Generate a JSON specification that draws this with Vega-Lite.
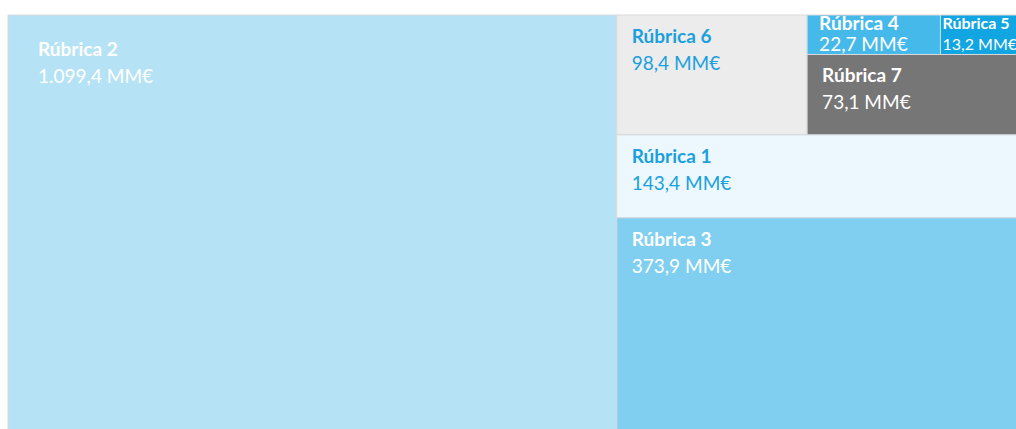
{
  "$schema": "https://vega.github.io/schema/vega-lite/v6.json",
  "width": 1010,
  "height": 419,
  "autosize": {"type": "none"},
  "padding": {"left": 8, "top": 15, "right": 0, "bottom": 0},
  "background": "white",
  "config": {"view": {"stroke": null}, "text": {"font": "Lato"}},
  "data": {
    "values": [
      {"name": "Rúbrica 2", "value": 1099.4, "display": "1.099,4 MM€", "l1": "1", "l2": "1", "l3": "1", "l4": "1", "l5": "1"},
      {"name": "Rúbrica 6", "value": 98.4, "display": "98,4 MM€", "l1": "2", "l2": "1", "l3": "1", "l4": "1", "l5": "1"},
      {"name": "Rúbrica 4", "value": 22.7, "display": "22,7 MM€", "l1": "2", "l2": "1", "l3": "2", "l4": "1", "l5": "1"},
      {"name": "Rúbrica 5", "value": 13.2, "display": "13,2 MM€", "l1": "2", "l2": "1", "l3": "2", "l4": "1", "l5": "2"},
      {"name": "Rúbrica 7", "value": 73.1, "display": "73,1 MM€", "l1": "2", "l2": "1", "l3": "2", "l4": "2", "l5": "1"},
      {"name": "Rúbrica 1", "value": 143.4, "display": "143,4 MM€", "l1": "2", "l2": "2", "l3": "1", "l4": "1", "l5": "1"},
      {"name": "Rúbrica 3", "value": 373.9, "display": "373,9 MM€", "l1": "2", "l2": "3", "l3": "1", "l4": "1", "l5": "1"}
    ]
  },
  "transform": [
    {"window": [{"op": "sum", "field": "value", "as": "c1"}], "sort": [{"field": "l1"}], "frame": [null, 0]},
    {"joinaggregate": [{"op": "max", "field": "c1", "as": "e1"}, {"op": "sum", "field": "value", "as": "g1"}], "groupby": ["l1"]},
    {"joinaggregate": [{"op": "sum", "field": "value", "as": "p1"}]},
    {"calculate": "(datum.e1 - datum.g1) / datum.p1", "as": "x1a"},
    {"calculate": "datum.e1 / datum.p1", "as": "x1b"},

    {"window": [{"op": "sum", "field": "value", "as": "c2"}], "sort": [{"field": "l2"}], "groupby": ["l1"], "frame": [null, 0]},
    {"joinaggregate": [{"op": "max", "field": "c2", "as": "e2"}, {"op": "sum", "field": "value", "as": "g2"}], "groupby": ["l1", "l2"]},
    {"calculate": "(datum.e2 - datum.g2) / datum.g1", "as": "y2a"},
    {"calculate": "datum.e2 / datum.g1", "as": "y2b"},

    {"window": [{"op": "sum", "field": "value", "as": "c3"}], "sort": [{"field": "l3"}], "groupby": ["l1", "l2"], "frame": [null, 0]},
    {"joinaggregate": [{"op": "max", "field": "c3", "as": "e3"}, {"op": "sum", "field": "value", "as": "g3"}], "groupby": ["l1", "l2", "l3"]},
    {"calculate": "datum.x1a + (datum.e3 - datum.g3) / datum.g2 * (datum.x1b - datum.x1a)", "as": "x3a"},
    {"calculate": "datum.x1a + datum.e3 / datum.g2 * (datum.x1b - datum.x1a)", "as": "x3b"},

    {"window": [{"op": "sum", "field": "value", "as": "c4"}], "sort": [{"field": "l4"}], "groupby": ["l1", "l2", "l3"], "frame": [null, 0]},
    {"joinaggregate": [{"op": "max", "field": "c4", "as": "e4"}, {"op": "sum", "field": "value", "as": "g4"}], "groupby": ["l1", "l2", "l3", "l4"]},
    {"calculate": "datum.y2a + (datum.e4 - datum.g4) / datum.g3 * (datum.y2b - datum.y2a)", "as": "y4a"},
    {"calculate": "datum.y2a + datum.e4 / datum.g3 * (datum.y2b - datum.y2a)", "as": "y4b"},

    {"window": [{"op": "sum", "field": "value", "as": "c5"}], "sort": [{"field": "l5"}], "groupby": ["l1", "l2", "l3", "l4"], "frame": [null, 0]},
    {"joinaggregate": [{"op": "max", "field": "c5", "as": "e5"}, {"op": "sum", "field": "value", "as": "g5"}], "groupby": ["l1", "l2", "l3", "l4", "l5"]},
    {"calculate": "datum.x3a + (datum.e5 - datum.g5) / datum.g4 * (datum.x3b - datum.x3a)", "as": "x5a"},
    {"calculate": "datum.x3a + datum.e5 / datum.g4 * (datum.x3b - datum.x3a)", "as": "x5b"}
  ],
  "encoding": {
    "x": {"field": "x5a", "type": "quantitative", "scale": {"domain": [0, 1], "nice": false, "zero": false}, "axis": null},
    "y": {"field": "y4a", "type": "quantitative", "scale": {"domain": [0, 1], "nice": false, "zero": false, "reverse": true}, "axis": null}
  },
  "layer": [
    {
      "mark": {"type": "rect", "stroke": "#d9d9d9", "strokeWidth": 1},
      "encoding": {
        "x2": {"field": "x5b"},
        "y2": {"field": "y4b"},
        "color": {
          "field": "name",
          "type": "nominal",
          "scale": {
            "domain": ["Rúbrica 2", "Rúbrica 6", "Rúbrica 4", "Rúbrica 5", "Rúbrica 7", "Rúbrica 1", "Rúbrica 3"],
            "range": ["#b5e3f5", "#ececec", "#45baea", "#11a5e1", "#767676", "#ecf8fd", "#80cff0"]
          },
          "legend": null
        }
      }
    },
    {
      "transform": [{"filter": "datum.name === 'Rúbrica 2'"}],
      "mark": {"type": "text", "align": "left", "baseline": "middle", "dx": 30, "dy": 35, "fontSize": 19, "fontWeight": "bold", "color": "white"},
      "encoding": {"text": {"field": "name"}}
    },
    {
      "transform": [{"filter": "datum.name === 'Rúbrica 2'"}],
      "mark": {"type": "text", "align": "left", "baseline": "middle", "dx": 30, "dy": 62, "fontSize": 19, "color": "white"},
      "encoding": {"text": {"field": "display"}}
    },
    {
      "transform": [{"filter": "indexof(['Rúbrica 6', 'Rúbrica 7', 'Rúbrica 1', 'Rúbrica 3'], datum.name) >= 0"}],
      "mark": {"type": "text", "align": "left", "baseline": "middle", "dx": 15, "dy": 22, "fontSize": 19, "fontWeight": "bold"},
      "encoding": {
        "text": {"field": "name"},
        "color": {"condition": {"test": "datum.name === 'Rúbrica 6' || datum.name === 'Rúbrica 1'", "value": "#1ba0dd"}, "value": "white"}
      }
    },
    {
      "transform": [{"filter": "indexof(['Rúbrica 6', 'Rúbrica 7', 'Rúbrica 1', 'Rúbrica 3'], datum.name) >= 0"}],
      "mark": {"type": "text", "align": "left", "baseline": "middle", "dx": 15, "dy": 49, "fontSize": 19},
      "encoding": {
        "text": {"field": "display"},
        "color": {"condition": {"test": "datum.name === 'Rúbrica 6' || datum.name === 'Rúbrica 1'", "value": "#1ba0dd"}, "value": "white"}
      }
    },
    {
      "transform": [{"filter": "datum.name === 'Rúbrica 4'"}],
      "mark": {"type": "text", "align": "left", "baseline": "middle", "dx": 12, "dy": 9, "fontSize": 19, "fontWeight": "bold", "color": "white"},
      "encoding": {"text": {"field": "name"}}
    },
    {
      "transform": [{"filter": "datum.name === 'Rúbrica 4'"}],
      "mark": {"type": "text", "align": "left", "baseline": "middle", "dx": 12, "dy": 30, "fontSize": 19, "color": "white"},
      "encoding": {"text": {"field": "display"}}
    },
    {
      "transform": [{"filter": "datum.name === 'Rúbrica 5'"}],
      "mark": {"type": "text", "align": "left", "baseline": "middle", "dx": 2, "dy": 9, "fontSize": 16, "fontWeight": "bold", "color": "white"},
      "encoding": {"text": {"field": "name"}}
    },
    {
      "transform": [{"filter": "datum.name === 'Rúbrica 5'"}],
      "mark": {"type": "text", "align": "left", "baseline": "middle", "dx": 2, "dy": 30, "fontSize": 16, "color": "white"},
      "encoding": {"text": {"field": "display"}}
    }
  ]
}
